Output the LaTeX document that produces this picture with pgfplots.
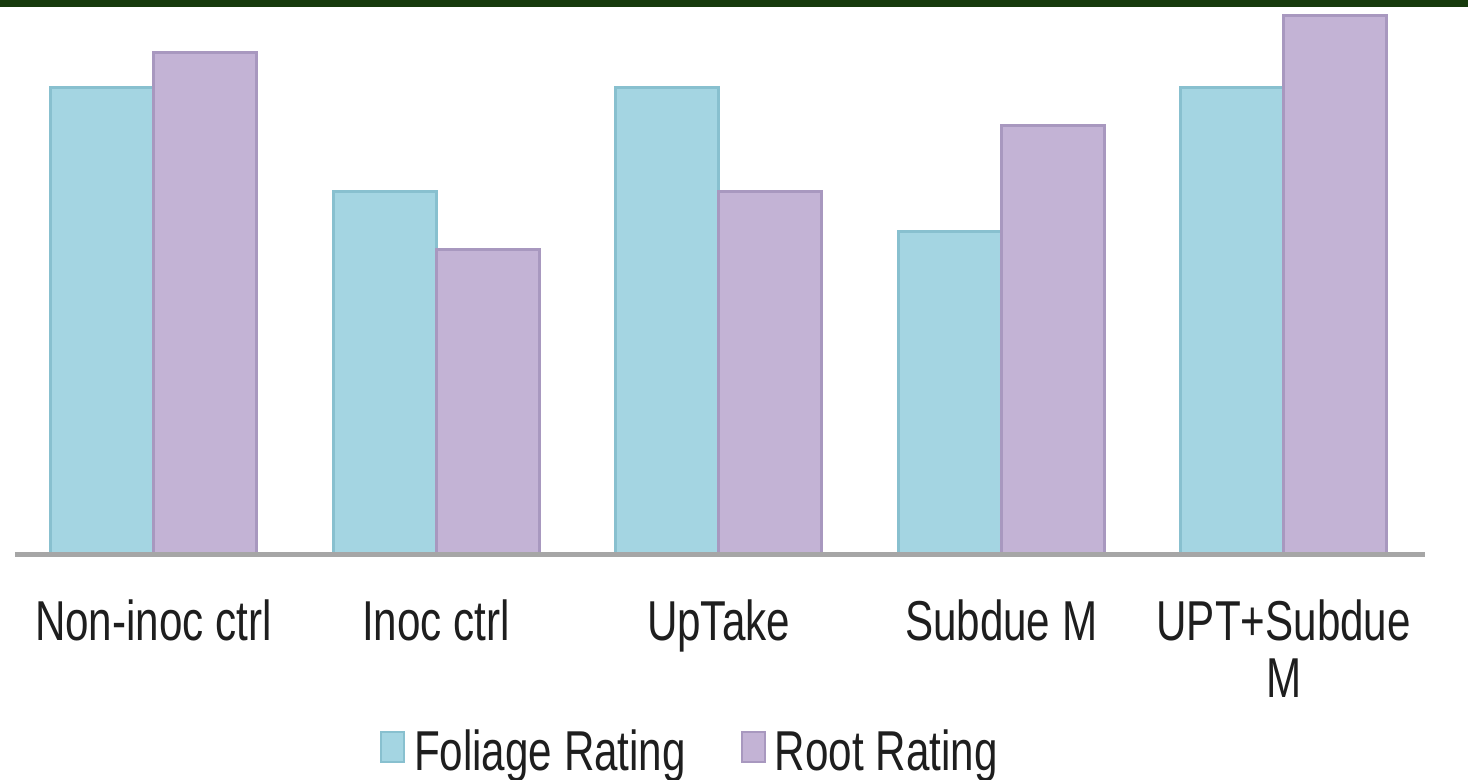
\documentclass[border=0pt]{standalone}
\usepackage{fontspec}
\setmainfont{Liberation Sans}[FakeStretch=0.75]
\usepackage{pgfplots}
\pgfplotsset{compat=1.18}

\definecolor{topGreen}{RGB}{22,58,12}
\definecolor{folFill}{RGB}{164,213,226}
\definecolor{folEdge}{RGB}{136,192,207}
\definecolor{rootFill}{RGB}{195,179,213}
\definecolor{rootEdge}{RGB}{168,152,191}
\definecolor{baseGray}{RGB}{166,166,166}
\definecolor{txt}{RGB}{30,30,30}

% ratings (arbitrary units, no y axis shown)
\pgfplotstableread{
x foliage root
0 4.67 5.02
1 3.63 3.05
2 4.67 3.63
3 3.23 4.29
4 4.67 5.39
}\ratings

\begin{document}
\begin{tikzpicture}
% page = 1468 x 780 px at 0.1 mm per px
\path[use as bounding box] (0,0) rectangle (146.8mm,78mm);
\fill[topGreen] (0,77.3mm) rectangle (146.8mm,78mm);

\begin{axis}[
  at={(1.5mm,22.5mm)}, anchor=south west,
  scale only axis,
  width=141mm, height=54.7mm,
  xmin=-0.49, xmax=4.5,
  ymin=0, ymax=5.47,
  ybar=0pt, bar width=10.3mm,
  hide y axis,
  axis x line=bottom,
  x axis line style={-, draw=baseGray, line width=0.5mm},
  axis on top,
  xtick=data,
  xtick style={draw=none},
  xticklabels={Non-inoc ctrl, Inoc ctrl, UpTake, Subdue M, {UPT+Subdue\\M}},
  xticklabel style={align=center, anchor=north, inner sep=0pt, yshift=-3.7mm,
    font=\fontsize{16}{16}\selectfont, text=txt},
  legend columns=2,
  legend image code/.code={\draw[#1, line width=0.2mm] (0mm,-0.9mm) rectangle (2.3mm,2.1mm);},
  legend style={draw=none, fill=none, inner sep=0pt, outer sep=0pt,
    nodes={inner sep=0pt, text=txt}, font=\fontsize{16}{16}\selectfont,
    at={(axis description cs:0.2589,-0.3199)}, anchor=north west,
    /tikz/every odd column/.append style={column sep=0.9mm},
    /tikz/every even column/.append style={column sep=5.5mm}},
]
\addplot[fill=folFill, draw=folEdge, line width=0.3mm] table[x=x, y=foliage] {\ratings};
\addplot[fill=rootFill, draw=rootEdge, line width=0.3mm] table[x=x, y=root] {\ratings};
\legend{Foliage Rating, Root Rating}
\end{axis}
\end{tikzpicture}
\end{document}
